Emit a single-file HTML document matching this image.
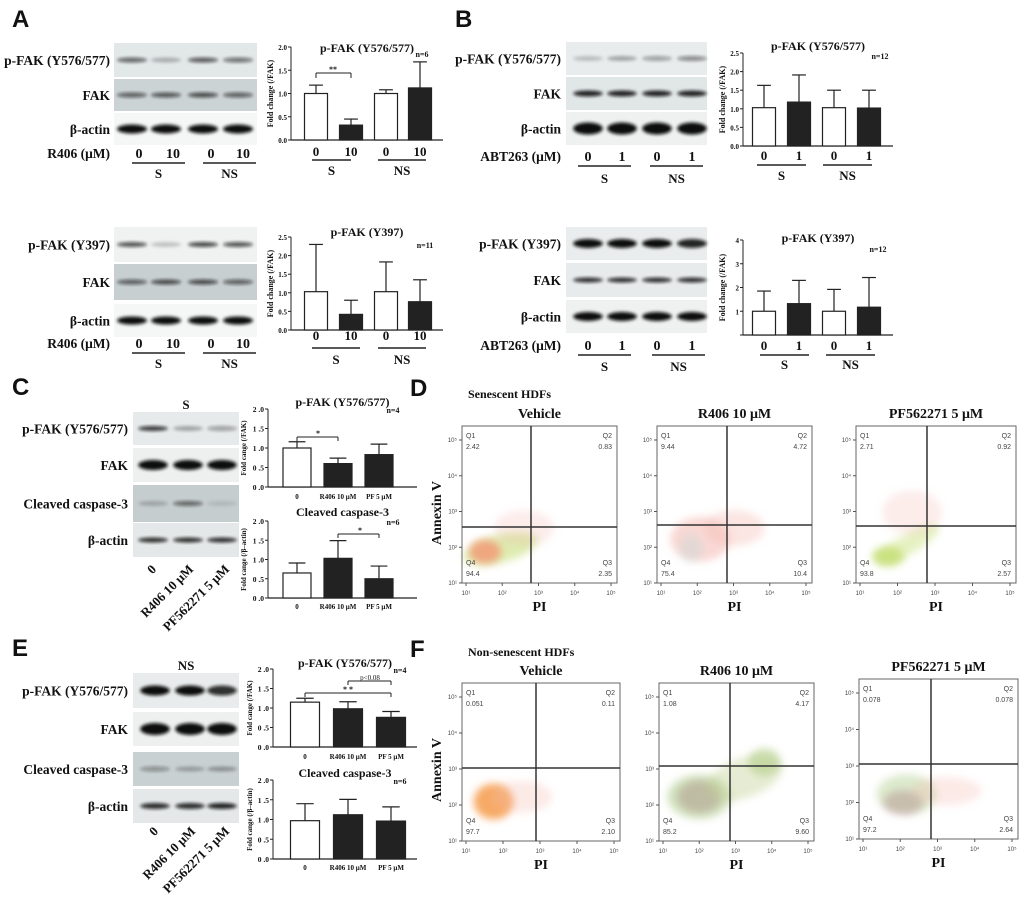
<!DOCTYPE html>
<html><head><meta charset="utf-8">
<style>
html,body{margin:0;padding:0;background:#fff;}
svg{display:block;font-family:"Liberation Serif",serif;}
</style></head>
<body>
<svg id="fig" width="1020" height="908" viewBox="0 0 1020 908" xmlns="http://www.w3.org/2000/svg">
<defs>
<filter id="blur" x="-20%" y="-50%" width="140%" height="200%"><feGaussianBlur stdDeviation="1.6"/></filter>
<filter id="blur2" x="-50%" y="-50%" width="200%" height="200%"><feGaussianBlur stdDeviation="4"/></filter>
</defs>
<g id="root"></g>
</svg>
<script>
// ---- Chart data ----
const catsAS = ["0","10","0","10"];
const catsB = ["0","1","0","1"];
const catsC = ["0","R406 10 μM","PF 5 μM"];
const a1Vals = [1.0, 0.32, 1.0, 1.12];
const a1Errs = [0.18, 0.13, 0.08, 0.56];
const a2Vals = [1.03, 0.42, 1.03, 0.76];
const a2Errs = [1.27, 0.38, 0.80, 0.59];
const b1Vals = [1.03, 1.18, 1.03, 1.02];
const b1Errs = [0.60, 0.73, 0.47, 0.48];
const b2Vals = [1.0, 1.32, 1.0, 1.17];
const b2Errs = [0.85, 0.98, 0.92, 1.25];
const c1Vals = [1.0, 0.60, 0.83];
const c1Errs = [0.16, 0.14, 0.27];
const c2Vals = [0.65, 1.03, 0.50];
const c2Errs = [0.26, 0.46, 0.33];
const e1Vals = [1.15, 0.98, 0.76];
const e1Errs = [0.10, 0.18, 0.15];
const e2Vals = [0.97, 1.12, 0.96];
const e2Errs = [0.43, 0.39, 0.36];
const ticks20 = ["0.0","0.5","1.0","1.5","2.0"];
const ticks25 = ["0.0","0.5","1.0","1.5","2.0","2.5"];
const ticks4 = ["","1","2","3","4"];
const ticksC = ["0 .0","0 .5","1 .0","1 .5","2 .0"];

const NS="http://www.w3.org/2000/svg";
const root=document.getElementById('root');
function el(tag,attrs,parent,text){
  const e=document.createElementNS(NS,tag);
  for(const k in attrs) e.setAttribute(k,attrs[k]);
  if(text!==undefined) e.textContent=text;
  (parent||root).appendChild(e); return e;
}
function txt(x,y,s,size,opts,parent){
  opts=opts||{};
  const t=el('text',{x:x,y:y,'font-size':size,'text-anchor':opts.anchor||'start','font-weight':opts.w||'bold',fill:opts.fill||'#111','font-family':opts.ff||'"Liberation Serif",serif'},parent,s);
  if(opts.rot) t.setAttribute('transform','rotate('+opts.rot+' '+x+' '+y+')');
  
  
  return t;
}
function line(x1,y1,x2,y2,w,parent,c){
  return el('line',{x1:x1,y1:y1,x2:x2,y2:y2,stroke:c||'#222','stroke-width':w||1},parent);
}

[['A',12,27],['B',455,27],['C',12,395],['D',410,396],['E',12,656],['F',410,657]].forEach(p=>{
  txt(p[1],p[2],p[0],24,{ff:'"Liberation Sans",sans-serif',name:'panel-label-'+p[0].toLowerCase()});
});

function barChart(cfg){
  const g=el('g',{});
  
  
  const n=cfg.ticks.length-1;
  const y=v=>cfg.y0-(v/cfg.max)*(cfg.y0-cfg.yTop);
  line(cfg.ax,cfg.yTop,cfg.ax,cfg.y0,1,g);
  line(cfg.ax,cfg.y0,cfg.ax2,cfg.y0,1.2,g);
  cfg.ticks.forEach((t,i)=>{
    const v=cfg.max*i/n, yy=y(v);
    line(cfg.ax-3,yy,cfg.ax,yy,1,g);
    if(t) txt(cfg.ax-4,yy+3,t,cfg.tickSize||7,{anchor:'end',name:'y-tick-label'},g);
  });
  txt(cfg.ax-(cfg.titleOff||18),(cfg.y0+cfg.yTop)/2,cfg.ytitle,cfg.ytSize||8,{anchor:'middle',rot:-90,name:'y-axis-title'},g);
  cfg.vals.forEach((v,i)=>{
    const cx=cfg.centers[i], w=cfg.bw;
    const top=y(v), et=y(v+cfg.errs[i]);
    line(cx,et,cx,top,1.2,g);
    line(cx-w*0.3,et,cx+w*0.3,et,1.2,g);
    const r=el('rect',{x:cx-w/2,y:top,width:w,height:cfg.y0-top,fill:cfg.fills[i],stroke:'#222','stroke-width':1.2},g);
    
    
    if(cfg.catY) txt(cx,cfg.catY,cfg.cats[i],cfg.catSize||13,{anchor:'middle',name:'x-tick-label'},g);
  });
  txt((cfg.ax+cfg.ax2)/2,cfg.titleY,cfg.title,cfg.titleSize||12,{anchor:'middle',name:'chart-title'},g);
  txt(cfg.nX,cfg.nY,cfg.nText,8,{anchor:'middle',name:'n-label'},g);
  return g;
}
const W='#fff',K='#222';
function groupLines(g,x1,x2,x3,x4,ly,sy){
  line(x1,ly,x2,ly,1.5,g);line(x3,ly,x4,ly,1.5,g);
  txt((x1+x2)/2,sy,'S',13,{anchor:'middle',name:'group-label-s'},g);
  txt((x3+x4)/2,sy,'NS',13,{anchor:'middle',name:'group-label-ns'},g);
}
let g;
g=barChart({name:'chart-a-y576',ax:291,ax2:443,y0:140,yTop:47,max:2,ticks:ticks20,vals:a1Vals,errs:a1Errs,centers:[316,351,386,420],bw:23,fills:[W,K,W,K],cats:catsAS,catY:156,title:'p-FAK (Y576/577)',titleY:52,ytitle:'Fold change (/FAK)',nText:'n=6',nX:422,nY:57});
groupLines(g,312,351,378,426,160,175);
line(316,73,316,78,1,g);line(316,73,351,73,1,g);line(351,73,351,78,1,g);txt(333,72,'**',8,{anchor:'middle',name:'significance'},g);
g=barChart({name:'chart-a-y397',ax:291,ax2:443,y0:330,yTop:237,max:2.5,ticks:ticks25,vals:a2Vals,errs:a2Errs,centers:[316,351,386,420],bw:23,fills:[W,K,W,K],cats:catsAS,catY:340,title:'p-FAK (Y397)',titleY:236,ytitle:'Fold change (/FAK)',nText:'n=11',nX:425,nY:248});
groupLines(g,312,360,378,426,348,364);
g=barChart({name:'chart-b-y576',ax:743,ax2:893,y0:146,yTop:53,max:2.5,ticks:ticks25,vals:b1Vals,errs:b1Errs,centers:[764,799,834,869],bw:23,fills:[W,K,W,K],cats:catsB,catY:160,title:'p-FAK (Y576/577)',titleY:50,ytitle:'Fold change (/FAK)',nText:'n=12',nX:880,nY:59});
groupLines(g,757,806,823,872,165,180);
g=barChart({name:'chart-b-y397',ax:743,ax2:893,y0:335,yTop:240,max:4,ticks:ticks4,vals:b2Vals,errs:b2Errs,centers:[764,799,834,869],bw:23,fills:[W,K,W,K],cats:catsB,catY:350,title:'p-FAK (Y397)',titleY:242,ytitle:'Fold change (/FAK)',nText:'n=12',nX:878,nY:252});
groupLines(g,760,809,826,875,355,369);
g=barChart({name:'chart-c-pfak',ax:268,ax2:417,y0:487,yTop:409,max:2,ticks:ticksC,tickSize:7.5,titleOff:22,ytSize:7,vals:c1Vals,errs:c1Errs,centers:[297,338,379],bw:28,fills:[W,K,K],cats:catsC,catY:499,catSize:7,title:'p-FAK (Y576/577)',titleY:406,ytitle:'Fold cange (/FAK)',nText:'n=4',nX:393,nY:413});
line(297,437,297,441,1,g);line(297,437,338,437,1,g);line(338,437,338,441,1,g);txt(318,436,'*',8,{anchor:'middle',name:'significance'},g);
g=barChart({name:'chart-c-caspase',ax:268,ax2:417,y0:598,yTop:521,max:2,ticks:ticksC,tickSize:7.5,titleOff:22,ytSize:7,vals:c2Vals,errs:c2Errs,centers:[297,338,379],bw:28,fills:[W,K,K],cats:catsC,catY:609,catSize:7,title:'Cleaved caspase-3',titleY:516,ytitle:'Fold cange (/β–actin)',nText:'n=6',nX:393,nY:525});
line(338,534,338,538,1,g);line(338,534,379,534,1,g);line(379,534,379,538,1,g);txt(360,533,'*',8,{anchor:'middle',name:'significance'},g);
g=barChart({name:'chart-e-pfak',ax:273,ax2:417,y0:747,yTop:669,max:2,ticks:ticksC,tickSize:7.5,titleOff:21,ytSize:7,vals:e1Vals,errs:e1Errs,centers:[305,348,391],bw:29,fills:[W,K,K],cats:catsC,catY:759,catSize:7,title:'p-FAK (Y576/577)',titleY:667,ytitle:'Fold cange (/FAK)',nText:'n=4',nX:400,nY:673});
line(305,693,305,697,1,g);line(305,693,391,693,1,g);line(391,693,391,697,1,g);txt(348,692,'* *',8,{anchor:'middle',name:'significance'},g);
line(348,681,348,685,1,g);line(348,681,391,681,1,g);line(391,681,391,685,1,g);txt(370,680,'p<0.08',7,{anchor:'middle',w:'normal',name:'significance'},g);
g=barChart({name:'chart-e-caspase',ax:273,ax2:417,y0:859,yTop:780,max:2,ticks:ticksC,tickSize:7.5,titleOff:21,ytSize:7,vals:e2Vals,errs:e2Errs,centers:[305,348,391],bw:29,fills:[W,K,K],cats:catsC,catY:870,catSize:7,title:'Cleaved caspase-3',titleY:777,ytitle:'Fold cange (/β–actin)',nText:'n=6',nX:400,nY:784});

function blot(name,x,w,y,h,bg,lanes,intens,bh,labelX,label){
  const g=el('g',{});
  
  
  el('rect',{x:x,y:y,width:w,height:h,fill:bg},g);
  const lw=w/lanes.length;
  lanes.forEach((cx,i)=>{
    const a=intens[i]; if(a<=0) return;
    el('ellipse',{cx:cx,cy:y+h/2,rx:lw*0.42,ry:bh,fill:'#111','fill-opacity':a,filter:'url(#blur)'},g);
  });
  txt(labelX,y+h/2+5,label,13.5,{anchor:'end',name:'blot-label'},g);
}
const laneA=[132,166,203,238], laneB=[588,622,657,692], laneC=[153,188,222], laneE=[155,190,222];
blot('blot-a-pfak576',114,143,43,34,'#e2e7e8',laneA,[0.6,0.25,0.65,0.55],2.5,110,'p-FAK (Y576/577)');
blot('blot-a-fak',114,143,79,32,'#ccd3d4',laneA,[0.6,0.65,0.7,0.6],2.5,110,'FAK');
blot('blot-a-actin',114,143,113,32,'#f5f6f6',laneA,[1,1,1,1],4.5,110,'β-actin');
blot('blot-a-pfak397',114,143,227,35,'#f0f2f2',laneA,[0.7,0.2,0.75,0.7],2.5,110,'p-FAK (Y397)');
blot('blot-a-fak2',114,143,264,36,'#c8cfd0',laneA,[0.6,0.7,0.7,0.6],2.5,110,'FAK');
blot('blot-a-actin2',114,143,304,33,'#f5f6f6',laneA,[1,1,1,1],4,110,'β-actin');
blot('blot-b-pfak576',566,141,42,33,'#e8ecec',laneB,[0.2,0.3,0.35,0.45],2.5,561,'p-FAK (Y576/577)');
blot('blot-b-fak',566,141,77,33,'#e1e6e6',laneB,[0.9,0.9,0.9,0.9],3,561,'FAK');
blot('blot-b-actin',566,141,112,33,'#eff1f1',laneB,[1,1,1,1],6,561,'β-actin');
blot('blot-b-pfak397',566,141,227,33,'#eaeded',laneB,[1,1,1,0.9],4.5,561,'p-FAK (Y397)');
blot('blot-b-fak2',566,141,263,34,'#e7ebeb',laneB,[0.85,0.85,0.85,0.85],2.5,561,'FAK');
blot('blot-b-actin2',566,141,300,33,'#eff1f1',laneB,[1,1,1,1],4.5,561,'β-actin');
blot('blot-c-pfak',133,106,412,33,'#e6eaea',laneC,[0.8,0.3,0.35],2.5,128,'p-FAK (Y576/577)');
blot('blot-c-fak',133,106,448,34,'#eef0f0',laneC,[1,1,1],5,128,'FAK');
blot('blot-c-caspase',133,106,485,37,'#c6cdce',laneC,[0.2,0.55,0.1],2.5,128,'Cleaved caspase-3');
blot('blot-c-actin',133,106,523,34,'#e4e8e8',laneC,[0.85,0.85,0.85],2.5,128,'β-actin');
blot('blot-e-pfak',133,106,673,35,'#e9ecec',laneE,[1,1,0.85],5,128,'p-FAK (Y576/577)');
blot('blot-e-fak',133,106,712,34,'#eef0f0',laneE,[1,1,1],6,128,'FAK');
blot('blot-e-caspase',133,106,752,34,'#c9d0d1',laneE,[0.35,0.25,0.3],2.5,128,'Cleaved caspase-3');
blot('blot-e-actin',133,106,789,34,'#e4e8e8',laneE,[0.85,0.85,0.9],3,128,'β-actin');

function laneRow(y,lanes,vals,lab,lx){
  txt(lx,y,lab,13.5,{anchor:'end',name:'treatment-label'});
  lanes.forEach((x,i)=>txt(x,y,vals[i],14,{anchor:'middle',name:'lane-label'}));
}
laneRow(158,[139,173,211,243],['0','10','0','10'],'R406 (μM)',110);
g=el('g',{});groupLines(g,132,185,203,256,163,178);
laneRow(348,[139,173,211,243],['0','10','0','10'],'R406 (μM)',110);
g=el('g',{});groupLines(g,132,185,203,256,353,368);
laneRow(161,laneB,['0','1','0','1'],'ABT263 (μM)',561);
g=el('g',{});groupLines(g,578,631,650,703,166,183);
laneRow(350,laneB,['0','1','0','1'],'ABT263 (μM)',561);
g=el('g',{});groupLines(g,578,631,652,705,355,371);
txt(186,409,'S',13,{anchor:'middle',name:'condition-label'});
txt(186,670,'NS',13,{anchor:'middle',name:'condition-label'});
[[570,laneC],[832,laneE]].forEach(r=>{
  const y=r[0],L=r[1];
  txt(L[0]+4,y,'0',13,{anchor:'end',rot:-45,name:'lane-label'});
  txt(L[1]+6,y,'R406 10 μM',13,{anchor:'end',rot:-45,name:'lane-label'});
  txt(L[2]+8,y,'PF562271 5 μM',13,{anchor:'end',rot:-45,name:'lane-label'});
});

function flow(name,x0,x1,y0,y1,vx,hy,title,q,clouds){
  const g=el('g',{});
  
  
  clouds.forEach(c=>{
    const cx=x0+c[0]*(x1-x0), cy=y0+c[1]*(y1-y0);
    el('ellipse',{cx:cx,cy:cy,rx:c[2],ry:c[3],fill:c[4],'fill-opacity':c[5],filter:'url(#blur2)',transform:'rotate('+(c[6]||0)+' '+cx+' '+cy+')'},g);
  });
  el('rect',{x:x0,y:y0,width:x1-x0,height:y1-y0,fill:'none',stroke:'#666','stroke-width':1},g);
  line(vx,y0,vx,y1,1.5,g,'#333');line(x0,hy,x1,hy,1.5,g,'#333');
  const f={w:'normal',ff:'"Liberation Sans",sans-serif',fill:'#444'};
  txt(x0+4,y0+12,'Q1',7,Object.assign({name:'quadrant-label'},f),g);
  txt(x0+4,y0+23,q[0],7,Object.assign({name:'quadrant-value'},f),g);
  txt(x1-5,y0+12,'Q2',7,Object.assign({anchor:'end',name:'quadrant-label'},f),g);
  txt(x1-5,y0+23,q[1],7,Object.assign({anchor:'end',name:'quadrant-value'},f),g);
  txt(x0+4,y1-18,'Q4',7,Object.assign({name:'quadrant-label'},f),g);
  txt(x0+4,y1-7,q[3],7,Object.assign({name:'quadrant-value'},f),g);
  txt(x1-5,y1-18,'Q3',7,Object.assign({anchor:'end',name:'quadrant-label'},f),g);
  txt(x1-5,y1-7,q[2],7,Object.assign({anchor:'end',name:'quadrant-value'},f),g);
  const dy=(y1-y0-14)/4;
  for(let i=0;i<5;i++){
    const yy=y1-i*dy; line(x0-3,yy,x0,yy,1,g,'#555');
    txt(x0-5,yy+2,'10'+['¹','²','³','⁴','⁵'][i],6,Object.assign({anchor:'end',name:'y-tick-label'},f),g);
  }
  const dx=(x1-x0-10)/4;
  for(let i=0;i<5;i++){
    const xx=x0+4+i*dx; line(xx,y1,xx,y1+3,1,g,'#555');
    txt(xx,y1+12,'10'+['¹','²','³','⁴','⁵'][i],6,Object.assign({anchor:'middle',name:'x-tick-label'},f),g);
  }
  txt((x0+x1)/2,y0-8,title,14,{anchor:'middle',name:'flow-title'},g);
  txt((x0+x1)/2,y1+28,'PI',14,{anchor:'middle',name:'x-axis-title'},g);
}
txt(468,398,'Senescent HDFs',12,{name:'section-title'});
txt(468,656,'Non-senescent HDFs',12,{name:'section-title'});
txt(441,513,'Annexin V',14,{anchor:'middle',rot:-90,name:'y-axis-title'});
txt(441,770,'Annexin V',14,{anchor:'middle',rot:-90,name:'y-axis-title'});
const pk='#f2a07a',gr='#c8e07a',rd='#f4b8b0',lv='#d9b0c8';
flow('flow-s-vehicle',462,617,426,583,531,527,'Vehicle',['2.42','0.83','2.35','94.4'],[[0.25,0.78,38,14,gr,0.6,-15],[0.15,0.8,16,12,pk,0.9],[0.4,0.65,30,18,rd,0.25]]);
flow('flow-s-r406',657,812,426,583,727,525,'R406 10 μM',['9.44','4.72','10.4','75.4'],[[0.28,0.72,30,22,rd,0.55],[0.5,0.65,30,18,rd,0.35],[0.22,0.78,12,14,'#b9d8d8',0.35]]);
flow('flow-s-pf',856,1016,426,583,927,526,'PF562271 5 μM',['2.71','0.92','2.57','93.8'],[[0.2,0.83,16,10,gr,0.9],[0.33,0.75,35,10,gr,0.45,-30],[0.35,0.55,30,22,rd,0.25]]);
flow('flow-ns-vehicle',462,620,683,841,536,768,'Vehicle',['0.051','0.11','2.10','97.7'],[[0.2,0.75,20,18,'#f7a55e',0.95],[0.38,0.72,30,16,rd,0.3]]);
flow('flow-ns-r406',659,814,683,841,730,766,'R406 10 μM',['1.08','4.17','9.60','85.2'],[[0.26,0.72,22,16,lv,0.9],[0.26,0.72,32,22,'#9cc070',0.45],[0.55,0.6,40,20,'#c0d090',0.4,-20],[0.68,0.5,16,14,'#a8c878',0.5]]);
flow('flow-ns-pf',859,1018,679,839,931,764,'PF562271 5 μM',['0.078','0.078','2.64','97.2'],[[0.28,0.77,20,12,lv,0.9],[0.3,0.72,30,20,'#a8c880',0.4],[0.55,0.7,35,14,rd,0.3]]);
</script>
</body></html>
